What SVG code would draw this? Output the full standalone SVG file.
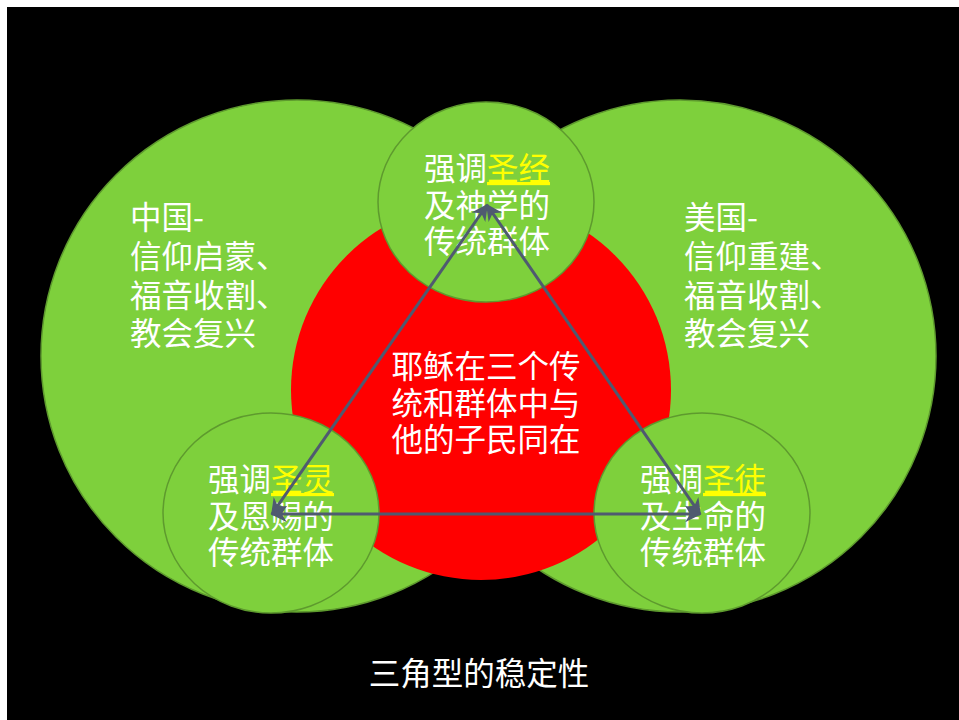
<svg xmlns="http://www.w3.org/2000/svg" width="959" height="720" viewBox="0 0 959 720">
<defs>
<style>
.g{fill:#7ed03c;stroke:#5e9a2e;stroke-width:1.5}
.t{font-family:"Noto Sans CJK SC","Noto Sans",sans-serif;font-size:31.5px;fill:#ffffff}
.y{fill:#ffff00;text-decoration:underline}
.c{stroke:#4f5a70;stroke-width:3;fill:none;marker-start:url(#ah);marker-end:url(#ah)}
</style>
<marker id="ah" viewBox="0 0 10 10" refX="9" refY="5" markerWidth="5.5" markerHeight="5.5" orient="auto-start-reverse" markerUnits="strokeWidth">
<path d="M0,0 L10,5 L0,10 L3,5 Z" fill="#4f5a70"/>
</marker>
</defs>
<rect x="0" y="0" width="959" height="720" fill="#ffffff"/>
<rect x="7" y="7" width="952" height="713" fill="#000000"/>
<g id="china"><circle class="g" cx="297" cy="356" r="256"/></g>
<g id="usa"><circle class="g" cx="680" cy="356" r="256"/></g>
<g id="center"><circle cx="481" cy="390" r="190" fill="#ff0000"/></g>
<g id="top"><ellipse class="g" cx="486" cy="202" rx="108" ry="100"/></g>
<g id="left"><ellipse class="g" cx="271" cy="513" rx="108" ry="100"/></g>
<g id="right"><ellipse class="g" cx="702" cy="513" rx="108" ry="100"/></g>
<g id="texts" class="t">
<text x="130" y="229">中国-</text>
<text x="130" y="268">信仰启蒙、</text>
<text x="130" y="307">福音收割、</text>
<text x="130" y="345">教会复兴</text>
<text x="684" y="229">美国-</text>
<text x="684" y="268">信仰重建、</text>
<text x="684" y="307">福音收割、</text>
<text x="684" y="345">教会复兴</text>
<text x="487" y="180" text-anchor="middle">强调<tspan class="y">圣经</tspan></text>
<text x="487" y="217" text-anchor="middle">及神学的</text>
<text x="487" y="253" text-anchor="middle">传统群体</text>
<text x="486" y="378" text-anchor="middle">耶稣在三个传</text>
<text x="486" y="415" text-anchor="middle">统和群体中与</text>
<text x="486" y="451" text-anchor="middle">他的子民同在</text>
<text x="271" y="491" text-anchor="middle">强调<tspan class="y">圣灵</tspan></text>
<text x="271" y="528" text-anchor="middle">及恩赐的</text>
<text x="271" y="564" text-anchor="middle">传统群体</text>
<text x="703" y="491" text-anchor="middle">强调<tspan class="y">圣徒</tspan></text>
<text x="703" y="528" text-anchor="middle">及生命的</text>
<text x="703" y="564" text-anchor="middle">传统群体</text>
<text x="479" y="685" text-anchor="middle">三角型的稳定性</text>
</g>
<g id="connectors">
<line class="c" x1="272" y1="514" x2="487" y2="205"/>
<line class="c" x1="700" y1="514" x2="487" y2="205"/>
<line class="c" x1="272" y1="514" x2="700" y2="514"/>
</g>
</svg>
